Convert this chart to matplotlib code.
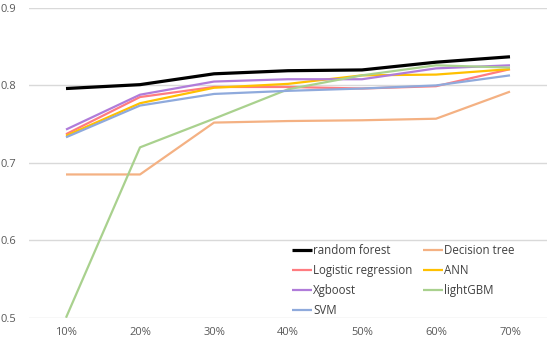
import matplotlib
matplotlib.use("Agg")
import matplotlib.pyplot as plt

categories = ["10%", "20%", "30%", "40%", "50%", "60%", "70%"]
random_forest = [0.796, 0.801, 0.815, 0.819, 0.820, 0.830, 0.837]
decision_tree = [0.685, 0.685, 0.752, 0.754, 0.755, 0.757, 0.792]
logistic_regression = [0.737, 0.785, 0.798, 0.798, 0.796, 0.799, 0.821]
ann = [0.735, 0.777, 0.797, 0.802, 0.813, 0.814, 0.821]
xgboost = [0.743, 0.788, 0.805, 0.808, 0.808, 0.822, 0.826]
lightgbm = [0.500, 0.720, 0.757, 0.795, 0.813, 0.826, 0.823]
svm = [0.733, 0.774, 0.789, 0.793, 0.796, 0.800, 0.813]
yticks = [0.5, 0.6, 0.7, 0.8, 0.9]

series = [
    ("random forest", random_forest, "#000000", 2.3),
    ("Decision tree", decision_tree, "#F4B183", 1.6),
    ("Logistic regression", logistic_regression, "#FF7C80", 1.6),
    ("ANN", ann, "#FFC000", 1.6),
    ("Xgboost", xgboost, "#B07CDA", 1.6),
    ("lightGBM", lightgbm, "#A9D18E", 1.6),
    ("SVM", svm, "#8FAADC", 1.6),
]

plt.rcParams['font.family'] = ['Open Sans', 'DejaVu Sans']
fig = plt.figure(figsize=(5.5, 3.42), dpi=100)
ax = fig.add_axes([29/550, (342-317.7)/342, (547-29)/550, (317.7-8)/342])
x = list(range(len(categories)))
handles = []
for name, vals, col, lw in series:
    h, = ax.plot(x, vals, color=col, lw=lw, label=name, solid_joinstyle='round', solid_capstyle='butt')
    handles.append(h)

ax.set_xlim(-0.5, len(categories) - 0.5)
ax.set_ylim(0.5, 0.9)
ax.set_yticks(yticks)
ax.set_yticklabels([f"{v:.1f}" for v in yticks])
ax.set_xticks(x)
ax.set_xticklabels(categories)
ax.tick_params(length=0, colors="#595959", labelsize=8)
ax.tick_params(axis='x', pad=7)
ax.tick_params(axis='y', pad=9)
ax.yaxis.grid(True, color="#D9D9D9", lw=1)
ax.set_axisbelow(True)
for s in ax.spines.values():
    s.set_visible(False)

# row-major order in a 2-column legend
order = [0, 2, 4, 6, 1, 3, 5]
leg = ax.legend([handles[i] for i in order], [series[i][0] for i in order],
                loc="upper left", bbox_to_anchor=(292/550, 1 - 244/342), bbox_transform=fig.transFigure,
                ncol=2, frameon=False, fontsize=8.3, handlelength=1.75, handletextpad=0.1,
                columnspacing=0.9, labelspacing=0.62, borderpad=0, borderaxespad=0)
for t in leg.get_texts():
    t.set_color("#404040")
fig.savefig("out.png", dpi=100)
